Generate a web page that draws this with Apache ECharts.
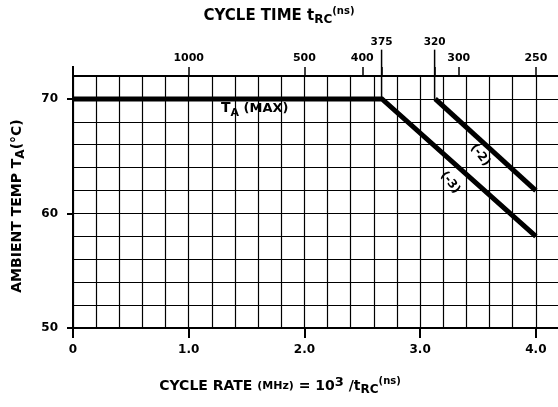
<!DOCTYPE html>
<html><head><meta charset="utf-8">
<script src="https://cdn.jsdelivr.net/npm/echarts@6/dist/echarts.min.js"></script>
<style>html,body{margin:0;padding:0;background:#fff}#c{width:558px;height:407px}</style>
</head><body><div id="c"></div>
<script>
// ---- data ----
const rateTicks = [0, 1, 2, 3, 4];            // bottom axis labels (MHz)
const tempTicks = [50, 60, 70];               // left axis labels (°C)
const cycleTimeNs = [1000, 500, 400, 375, 320, 300, 250]; // top axis labels (ns)
const kneeTimesNs = [375, 320];               // tall marker ticks
const rateMinus3 = [0, 2.67, 4.0];
const tempMinus3 = [70, 70, 58];
const rateMinus2 = [3.13, 4.0];
const tempMinus2 = [70, 62];

const F = 'DejaVu Sans';
const K = '#000';
const zip = (a, b) => a.map((v, i) => [v, b[i]]);

const chart = echarts.init(document.getElementById('c'), null, {renderer: 'canvas'});

const txt = (size, extra) => Object.assign({fontFamily: F, fontWeight: 'bold', fontSize: size, color: K}, extra || {});

const option = {
  animation: false,
  backgroundColor: '#fff',
  grid: {left: 73, top: 76, right: -1, bottom: 79, containLabel: false, outerBoundsMode: 'none'},
  xAxis: [
    {
      type: 'value', min: 0, max: 4.2, interval: 0.2, position: 'bottom',
      axisLine: {show: false, onZero: false}, axisTick: {show: false}, axisLabel: {show: false},
      splitLine: {show: true, lineStyle: {color: K, width: 1.2}}
    },
    {
      type: 'value', min: 0, max: 4.2, position: 'top',
      axisLine: {show: true, onZero: false, lineStyle: {color: K, width: 2}},
      axisTick: {show: true, customValues: cycleTimeNs.map(t => 1000 / t), length: 9, lineStyle: {color: K, width: 1.5}},
      axisLabel: {
        show: true, customValues: cycleTimeNs.map(t => 1000 / t), margin: 12,
        formatter: v => {
          const t = Math.round(1000 / v);
          return kneeTimesNs.indexOf(t) >= 0 ? '{hi|' + t + '}' : '{n|' + t + '}';
        },
        rich: {
          n: txt(11),
          hi: txt(10.5, {padding: [0, 0, 16, 0]})
        }
      },
      splitLine: {show: false},
      name: '{b|CYCLE TIME t}{s|RC}{p|(ns)}',
      nameLocation: 'middle', nameGap: 50,
      nameTextStyle: {
        padding: [0, 74, 0, 0],
        rich: {
          b: txt(15, {lineHeight: 20, verticalAlign: 'middle'}),
          s: txt(12, {lineHeight: 12, verticalAlign: 'bottom'}),
          p: txt(10, {lineHeight: 18, verticalAlign: 'top'})
        }
      }
    },
    {
      type: 'value', min: 0, max: 4.2, position: 'bottom',
      axisLine: {show: true, onZero: false, lineStyle: {color: K, width: 2}},
      axisTick: {show: true, customValues: rateTicks, length: 10, lineStyle: {color: K, width: 2}},
      axisLabel: {
        show: true, customValues: rateTicks, margin: 16,
        formatter: v => (v === 0 ? '0' : v.toFixed(1)),
        fontFamily: F, fontWeight: 'bold', fontSize: 12, color: K
      },
      splitLine: {show: false},
      name: '{b|CYCLE RATE }{m|(MHz)}{b| = 10}{u|3}{b| /t}{s|RC}{p|(ns)}',
      nameLocation: 'middle', nameGap: 48,
      nameTextStyle: {
        padding: [0, 72, 0, 0],
        rich: {
          b: txt(14, {lineHeight: 20, verticalAlign: 'middle'}),
          m: txt(11, {lineHeight: 20, verticalAlign: 'middle'}),
          u: txt(13, {lineHeight: 15, verticalAlign: 'top'}),
          s: txt(12, {lineHeight: 12, verticalAlign: 'bottom'}),
          p: txt(10, {lineHeight: 18, verticalAlign: 'top'})
        }
      }
    }
  ],
  yAxis: [
    {
      type: 'value', min: 50, max: 72, interval: 2, position: 'left',
      axisLine: {show: true, onZero: false, symbol: ['none', 'rect'], symbolSize: [2, 20], lineStyle: {color: K, width: 2}},
      axisTick: {show: false}, axisLabel: {show: false},
      splitLine: {show: true, lineStyle: {color: K, width: 1.2}}
    },
    {
      type: 'value', min: 50, max: 72, position: 'left',
      axisLine: {show: false, onZero: false},
      axisTick: {show: true, customValues: tempTicks, length: 6, lineStyle: {color: K, width: 2}},
      axisLabel: {show: true, customValues: tempTicks, margin: 15, fontFamily: F, fontWeight: 'bold', fontSize: 12, color: K},
      splitLine: {show: false},
      name: '{b|AMBIENT TEMP T}{s|A}{b|(°C)}',
      nameLocation: 'middle', nameGap: 46, nameRotate: 90,
      nameTextStyle: {
        padding: [0, 8, 0, 0],
        rich: {
          b: txt(14, {lineHeight: 20, verticalAlign: 'middle'}),
          s: txt(12, {lineHeight: 12, verticalAlign: 'bottom'})
        }
      }
    }
  ],
  series: [
    {
      type: 'line', xAxisIndex: 0, yAxisIndex: 0, z: 5,
      data: zip(rateMinus3, tempMinus3), symbol: 'none',
      lineStyle: {color: K, width: 5, join: 'miter'},
      markPoint: {
        symbol: 'circle', symbolSize: 0, silent: true,
        data: [
          {
            coord: [1.57, 69.15],
            label: {
              show: true, position: 'inside', formatter: '{t|T}{s|A}{m| (MAX)}',
              rich: {
                t: txt(14, {lineHeight: 20, verticalAlign: 'middle'}),
                s: txt(11, {lineHeight: 11, verticalAlign: 'bottom'}),
                m: txt(13, {lineHeight: 20, verticalAlign: 'middle'})
              }
            }
          },
          {
            coord: [3.26, 62.7],
            label: {show: true, position: 'inside', rotate: -52, formatter: '(-3)', fontFamily: F, fontWeight: 'bold', fontSize: 12, color: K}
          }
        ]
      }
    },
    {
      type: 'line', xAxisIndex: 0, yAxisIndex: 0, z: 5,
      data: zip(rateMinus2, tempMinus2), symbol: 'none',
      lineStyle: {color: K, width: 5, join: 'miter'},
      markPoint: {
        symbol: 'circle', symbolSize: 0, silent: true,
        data: [
          {
            coord: [3.52, 65.1],
            label: {show: true, position: 'inside', rotate: -52, formatter: '(-2)', fontFamily: F, fontWeight: 'bold', fontSize: 12, color: K}
          }
        ]
      }
    }
  ].concat(kneeTimesNs.map(t => ({
    type: 'line', xAxisIndex: 0, yAxisIndex: 0, clip: false, silent: true, z: 4,
    data: [[1000 / t, 70], [1000 / t, 74.3]], symbol: 'none',
    lineStyle: {color: K, width: 1.5}
  })))
};
chart.setOption(option);
</script>
</body></html>
